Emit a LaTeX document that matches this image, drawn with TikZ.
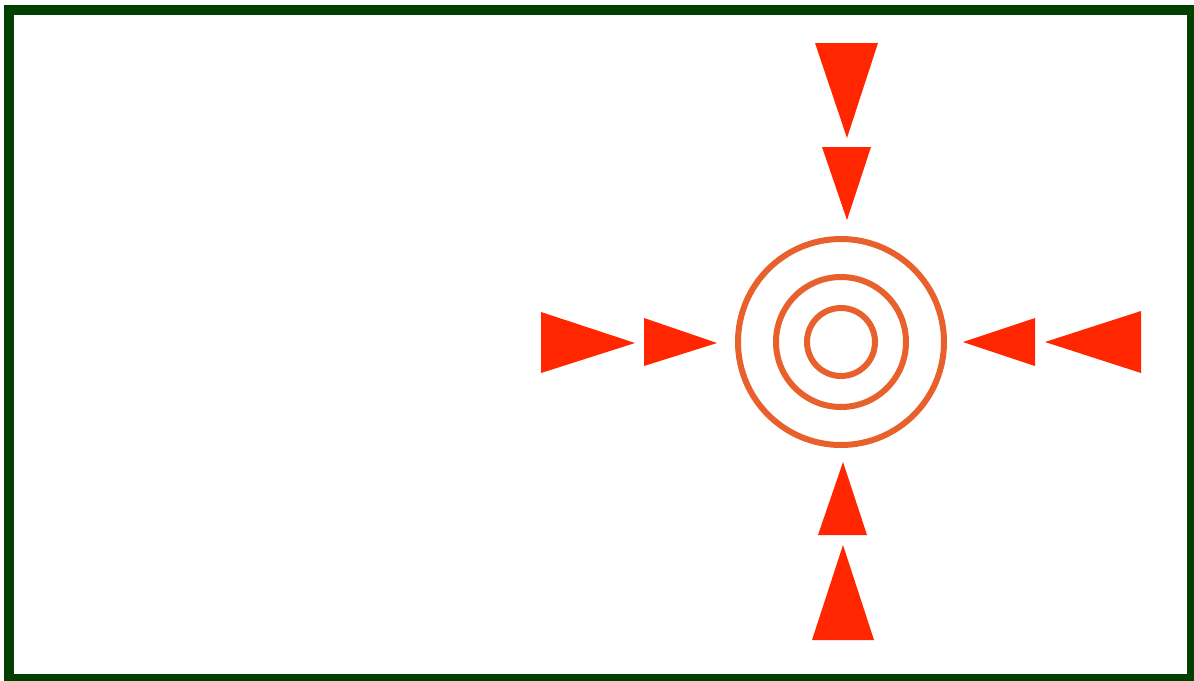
\documentclass[tikz,border=0pt]{standalone}
\definecolor{framegreen}{RGB}{2,64,2}
\definecolor{tri}{RGB}{255,38,0}
\definecolor{ring}{RGB}{232,96,44}
\begin{document}
\begin{tikzpicture}[x=1pt,y=-1pt,
  tristyle/.style={fill=tri,draw=none},
  ringstyle/.style={draw=ring,line width=6pt},
  framestyle/.style={draw=framegreen,line width=10pt}]
\useasboundingbox (0,0) rectangle (1194,680);
\fill[white] (0,0) rectangle (1194,680);
\draw[framestyle] (9,9.5) rectangle (1192,679);
% rings
\coordinate (c) at (841,342);
\draw[ringstyle] (c) circle[radius=103];
\draw[ringstyle] (c) circle[radius=65];
\draw[ringstyle] (c) circle[radius=34];
% top
\fill[tristyle] (815,43) -- (878,43) -- (847,138) -- cycle;
\fill[tristyle] (822,147) -- (871,147) -- (847,220) -- cycle;
% left
\fill[tristyle] (541,312) -- (541,373) -- (635,343) -- cycle;
\fill[tristyle] (644,318) -- (644,366) -- (717,343) -- cycle;
% right
\fill[tristyle] (1035,318) -- (1035,366) -- (963,342) -- cycle;
\fill[tristyle] (1141,311) -- (1141,373) -- (1045,342) -- cycle;
% bottom
\fill[tristyle] (818,535) -- (867,535) -- (843,462) -- cycle;
\fill[tristyle] (812,640) -- (874,640) -- (843,545) -- cycle;
\end{tikzpicture}
\end{document}
